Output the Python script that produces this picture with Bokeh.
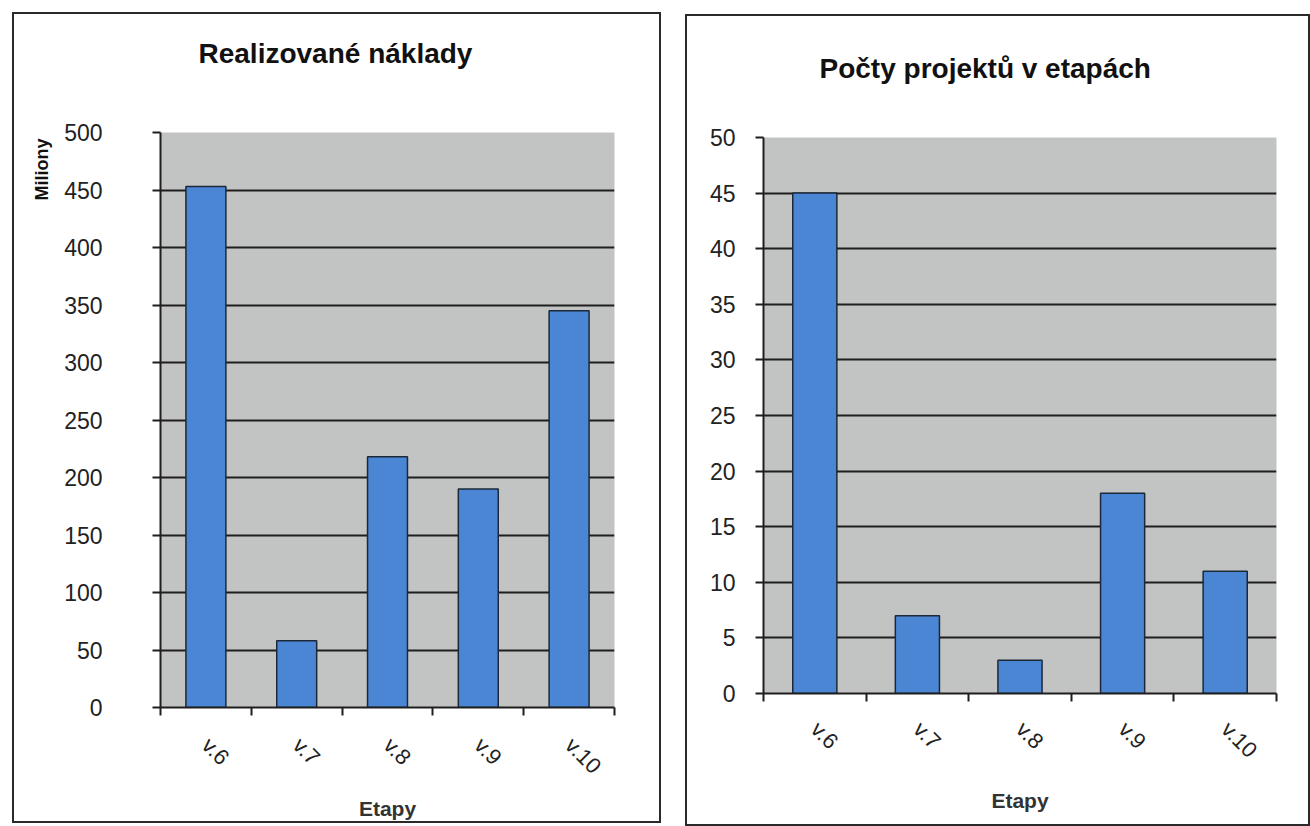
import numpy as np
from bokeh.plotting import figure
from bokeh.models import Range1d, FixedTicker, Title, Spacer
from bokeh.layouts import row, column
from bokeh.embed import file_html
from bokeh.resources import INLINE

# ---- data ----
categories = ["v.6", "v.7", "v.8", "v.9", "v.10"]
naklady = [453, 58, 218, 190, 345]          # Realizované náklady (miliony)
projekty = [45, 7, 3, 18, 11]               # Počty projektů v etapách
y_ticks_left = list(range(0, 501, 50))
y_ticks_right = list(range(0, 51, 5))

FONT = "Liberation Sans"
GRAY = "#c2c4c3"
BLUE = "#4a86d4"
DARK = "#1e1e1e"


def make_chart(values, ymax, yticks, width, height, mb, title, t_offset,
               gap, tick_standoff, xlab_standoff, etapy_standoff, bar_w):
    n = len(categories)
    centers = list(np.arange(n) + 0.5)
    bounds = list(range(n + 1))
    p = figure(width=width, height=height, output_backend="svg",
               toolbar_location=None, title_location=None,
               x_range=Range1d(0, n), y_range=Range1d(0, ymax),
               min_border_left=mb[0], min_border_right=mb[1],
               min_border_top=mb[2], min_border_bottom=mb[3])
    p.styles = {"border": "2px solid #2a2a2a"}
    p.background_fill_color = GRAY
    p.border_fill_color = "white"
    p.outline_line_color = None

    p.vbar(x=centers, top=values, width=bar_w, fill_color=BLUE,
           line_color="#1c2838", line_width=1.5)

    # x axis (ticks between categories, Excel style)
    xa = p.xaxis[0]
    xa.ticker = FixedTicker(ticks=centers, minor_ticks=bounds)
    xa.major_label_overrides = {c: lab for c, lab in zip(centers, categories)}
    xa.major_tick_out = 0
    xa.major_tick_in = 0
    xa.minor_tick_out = 8
    xa.minor_tick_in = 0
    xa.minor_tick_line_color = DARK
    xa.minor_tick_line_width = 2
    xa.axis_line_color = DARK
    xa.axis_line_width = 2
    xa.major_label_orientation = -np.pi / 4
    xa.major_label_standoff = xlab_standoff
    xa.major_label_text_font = FONT
    xa.major_label_text_font_size = "22px"
    xa.major_label_text_color = "#222222"
    xa.axis_label = "Etapy"
    xa.axis_label_text_font = FONT
    xa.axis_label_text_font_style = "bold"
    xa.axis_label_text_font_size = "21px"
    xa.axis_label_text_color = "#333333"
    xa.axis_label_standoff = etapy_standoff

    # y axis
    ya = p.yaxis[0]
    ya.ticker = FixedTicker(ticks=yticks)
    ya.major_tick_out = 8
    ya.major_tick_in = 0
    ya.minor_tick_out = 0
    ya.minor_tick_in = 0
    ya.major_tick_line_color = DARK
    ya.major_tick_line_width = 2
    ya.axis_line_color = DARK
    ya.axis_line_width = 2
    ya.major_label_standoff = tick_standoff
    ya.major_label_text_font = FONT
    ya.major_label_text_font_size = "23px"
    ya.major_label_text_color = "#222222"

    p.xgrid.grid_line_color = None
    p.ygrid.ticker = FixedTicker(ticks=yticks)
    p.ygrid.grid_line_color = DARK
    p.ygrid.grid_line_width = 2

    # empty spacer title (closest to the frame) lifts the real title up
    p.add_layout(Title(text=" ", text_font_size="1px", standoff=gap), "above")
    p.add_layout(Title(text=title, align="left", offset=t_offset,
                       standoff=10, text_font=FONT,
                       text_font_style="bold", text_font_size="28px",
                       text_color="#111111"), "above")
    return p


left = make_chart(naklady, 500, y_ticks_left, 649, 811,
                  (146, 49, 118, 118), "Realizované náklady", 38, 56,
                  50, 26, 7, 0.44)
left.add_layout(Title(text="Miliony", align="right", offset=6, standoff=20,
                      text_font=FONT, text_font_style="bold",
                      text_font_size="18px", text_color="#111111"), "left")

right = make_chart(projekty, 50, y_ticks_right, 625, 812,
                   (76, 36, 121, 135), "Počty projektů v etapách", 56, 46,
                   20, 24, 15, 0.43)

layout = column(
    Spacer(width=10, height=12),
    row(Spacer(width=12, height=10), left, Spacer(width=24, height=10),
        column(Spacer(width=10, height=2), right)),
)

open("out.html", "w").write(file_html(layout, INLINE))
